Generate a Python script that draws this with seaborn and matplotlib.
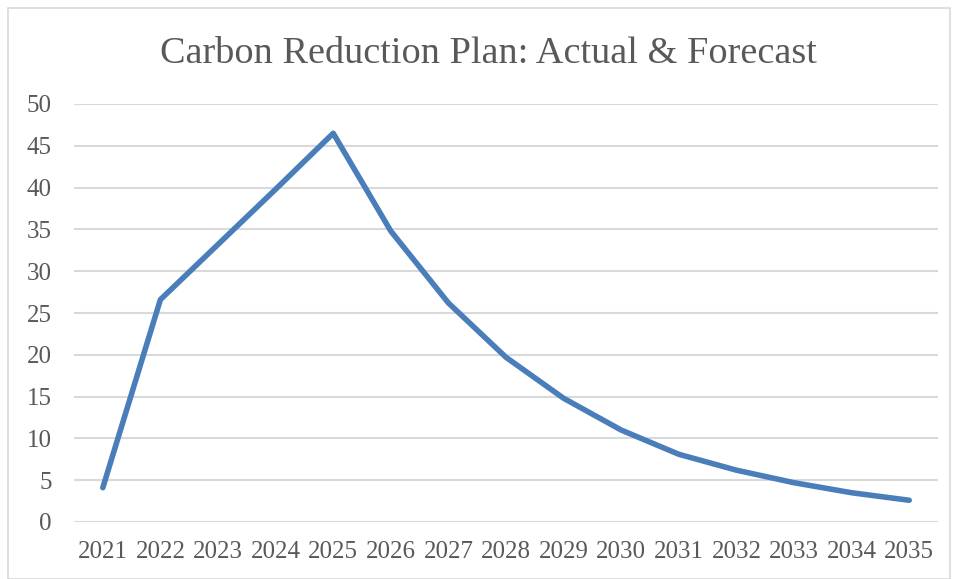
import matplotlib
matplotlib.use("Agg")
import matplotlib.pyplot as plt
import seaborn as sns
import pandas as pd
from matplotlib.patches import Rectangle

years = ["2021", "2022", "2023", "2024", "2025", "2026", "2027", "2028",
         "2029", "2030", "2031", "2032", "2033", "2034", "2035"]
reduction = [4.1, 26.6, 33.2, 39.8, 46.5, 34.8, 26.2, 19.7,
             14.8, 11.0, 8.1, 6.2, 4.7, 3.5, 2.6]

df = pd.DataFrame({"Year": years, "Reduction": reduction})

sns.set_style("white")
plt.rcParams['font.family'] = ['Liberation Serif', 'DejaVu Serif']

fig = plt.figure(figsize=(9.58, 5.79), dpi=100)
ax = fig.add_axes([74/958, 1 - 522/579, (938 - 74)/958, (522 - 104)/579])

sns.lineplot(data=df, x="Year", y="Reduction", color="#4a7ebb",
             linewidth=4, solid_capstyle="round", solid_joinstyle="round", ax=ax)

ax.set_xlim(-0.5, len(years) - 0.5)
ax.set_ylim(0, 50)
ax.set_yticks(range(0, 51, 5))
ax.grid(axis='y', color="#d9d9d9", linewidth=1.5)
ax.set_axisbelow(True)
for s in ax.spines.values():
    s.set_visible(False)
ax.tick_params(axis='both', length=0, labelsize=18, colors="#595959")
ax.tick_params(axis='y', pad=16)
ax.tick_params(axis='x', pad=14)
ax.set_xlabel("")
ax.set_ylabel("")

fig.text(488/958, 1 - 54/579, "Carbon Reduction Plan: Actual & Forecast",
         ha="center", va="center", fontsize=27.5, color="#595959")

fig.patches.append(Rectangle((8/958, 0), 942/958, 1 - 8/579, transform=fig.transFigure,
                             fill=False, edgecolor="#d9d9d9", linewidth=1.2))

fig.savefig("out.png", dpi=100)
